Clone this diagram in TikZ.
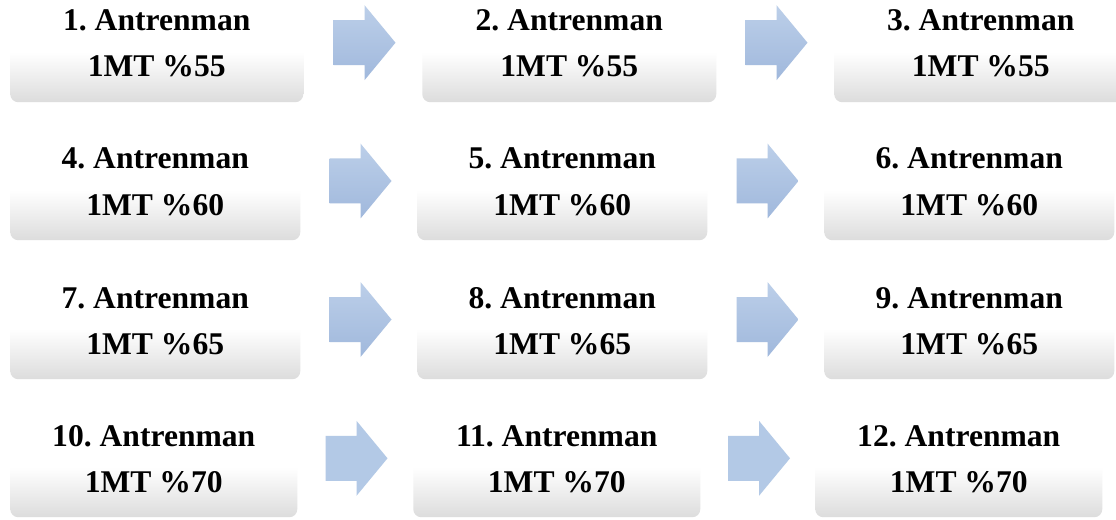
\documentclass[tikz,border=0pt]{standalone}
\usepackage{fontspec}
\setmainfont{Liberation Serif}
\usetikzlibrary{calc}
\frenchspacing
\definecolor{boxgray}{HTML}{DCDCDC}
\definecolor{arrtop}{HTML}{BCCFE9}
\definecolor{arrbot}{HTML}{A0B8DC}
\definecolor{arrflat}{HTML}{B3C9E6}
\tikzset{
  boxshape/.style={rounded corners=6pt, top color=white, bottom color=boxgray, middle color=white, draw=none, inner sep=0pt},
  lbl/.style={anchor=base, font=\fontsize{23.7}{28}\selectfont\bfseries, inner sep=0pt},
  arrgrad/.style={top color=arrtop, bottom color=arrbot, draw=none},
  arrflatst/.style={fill=arrflat, draw=none}
}
% name, left, right, bottom, line1, line2
\newcommand{\stepbox}[6]{%
  \pgfmathsetmacro{\bw}{(#3-#2)*0.75}%
  \node[boxshape, minimum width=\bw pt, minimum height=75pt, anchor=south west] (#1) at (#2,#4) {};
  \node[lbl] (#1a) at ($(#1.south)+(0,-71.5)$) {#5};
  \node[lbl] (#1b) at ($(#1.south)+(0,-25.5)$) {#6};
}
% style, left x, tip y
\newcommand{\blockarrow}[3]{%
  \path[#1] (#2,#3-22.5) -- (#2+31,#3-22.5) -- (#2+31,#3-37.5) -- (#2+62,#3)
    -- (#2+31,#3+37.5) -- (#2+31,#3+22.5) -- (#2,#3+22.5) -- cycle;
}
\begin{document}
\begin{tikzpicture}[x=0.75pt, y=-0.75pt]
\useasboundingbox (0,0) rectangle (1116,520);
\fill[white] (0,0) rectangle (1116,520);
\clip (0,0) rectangle (1116,520);
% row 1
\stepbox{b1}{10}{303}{102.5}{1. Antrenman}{1MT \%55}
\stepbox{b2}{422}{716}{102.5}{2. Antrenman}{1MT \%55}
\stepbox{b3}{834}{1127}{102.5}{3. Antrenman}{1MT \%55}
\blockarrow{arrgrad}{333.5}{42.7}
\blockarrow{arrgrad}{745.5}{42.7}
% row 2
\stepbox{b4}{10}{300}{240.5}{4. Antrenman}{1MT \%60}
\stepbox{b5}{417}{707}{240.5}{5. Antrenman}{1MT \%60}
\stepbox{b6}{824}{1114}{240.5}{6. Antrenman}{1MT \%60}
\blockarrow{arrgrad}{329.5}{181}
\blockarrow{arrgrad}{736.5}{181}
% row 3
\stepbox{b7}{10}{300}{379.5}{7. Antrenman}{1MT \%65}
\stepbox{b8}{417}{707}{379.5}{8. Antrenman}{1MT \%65}
\stepbox{b9}{824}{1114}{379.5}{9. Antrenman}{1MT \%65}
\blockarrow{arrgrad}{329.5}{319.5}
\blockarrow{arrgrad}{736.5}{319.5}
% row 4
\stepbox{b10}{10}{297}{517.5}{10. Antrenman}{1MT \%70}
\stepbox{b11}{413}{700}{517.5}{11. Antrenman}{1MT \%70}
\stepbox{b12}{815}{1102}{517.5}{12. Antrenman}{1MT \%70}
\blockarrow{arrflatst}{325.5}{458.3}
\blockarrow{arrflatst}{728}{458.3}
\end{tikzpicture}
\end{document}
